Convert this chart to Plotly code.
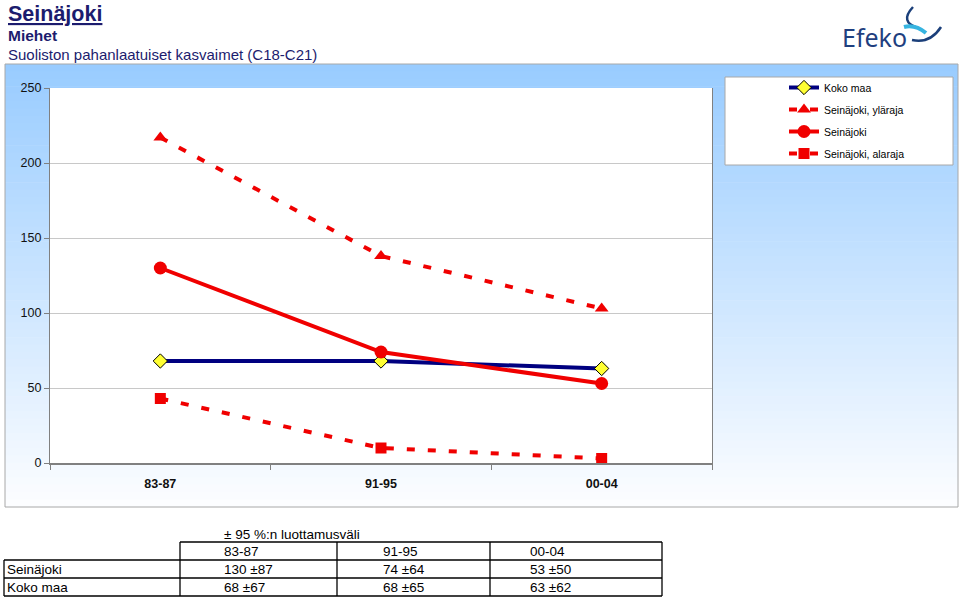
import plotly.graph_objects as go

# ---------------- data ----------------
categories = ["83-87", "91-95", "00-04"]
koko_maa = [68, 68, 63]
koko_maa_ci = [67, 65, 62]
seinajoki = [130, 74, 53]
seinajoki_ci = [87, 64, 50]
seinajoki_upper = [217, 138, 103]
seinajoki_lower = [43, 10, 3]
y_ticks = [0, 50, 100, 150, 200, 250]

W, H = 960, 599
PL, PR, PT, PB = 50, 712, 88, 463  # plot area in pixels

def px(x):
    return (x - PL) / (PR - PL)

def py(y):
    return (PB - y) / (PB - PT)

FONT = "Liberation Sans, Arial, sans-serif"
RED = "#F00000"
NAVY = "#000080"
TITLE_COL = "#1C1C6E"

fig = go.Figure()

fig.add_trace(go.Scatter(
    x=categories, y=koko_maa, name="Koko maa", mode="lines+markers",
    line=dict(color=NAVY, width=4),
    marker=dict(symbol="diamond", size=11, color="#FFFF33", line=dict(color="black", width=1)),
    legendgroup="a"))
fig.add_trace(go.Scatter(
    x=categories, y=seinajoki_upper, name="Seinäjoki, yläraja", mode="lines+markers",
    line=dict(color=RED, width=4, dash="8px,13px"),
    marker=dict(symbol="triangle-up", size=12, color=RED),
    legendgroup="b"))
fig.add_trace(go.Scatter(
    x=categories, y=seinajoki, name="Seinäjoki", mode="lines+markers",
    line=dict(color=RED, width=4),
    marker=dict(symbol="circle", size=13, color=RED),
    legendgroup="c"))
fig.add_trace(go.Scatter(
    x=categories, y=seinajoki_lower, name="Seinäjoki, alaraja", mode="lines+markers",
    line=dict(color=RED, width=4, dash="8px,13px"),
    marker=dict(symbol="square", size=11, color=RED),
    legendgroup="d"))

shapes = []
# gradient panel background
x0p, x1p, y0p, y1p = 5, 958, 64, 507
top = (153, 204, 255)
bot = (252, 253, 255)
n = 60
for i in range(n):
    t = i / (n - 1)
    c = tuple(round(top[k] + (bot[k] - top[k]) * t) for k in range(3))
    ya = y0p + (y1p - y0p) * i / n
    yb = y0p + (y1p - y0p) * (i + 1) / n + 0.6
    shapes.append(dict(type="rect", xref="paper", yref="paper", layer="below",
                       x0=px(x0p), x1=px(x1p), y0=py(ya), y1=py(min(yb, y1p)),
                       fillcolor="rgb(%d,%d,%d)" % c, line=dict(width=0)))
# panel border
shapes.append(dict(type="rect", xref="paper", yref="paper", layer="below",
                   x0=px(x0p), x1=px(x1p), y0=py(y0p), y1=py(y1p),
                   line=dict(color="#A8A8A8", width=1)))
# plot area white
shapes.append(dict(type="rect", xref="paper", yref="paper", layer="below",
                   x0=0, x1=1, y0=0, y1=1, fillcolor="white", line=dict(width=0)))
# legend box
shapes.append(dict(type="rect", xref="paper", yref="paper", layer="below",
                   x0=px(725), x1=px(953), y0=py(77), y1=py(165),
                   fillcolor="white", line=dict(color="#A8A8A8", width=1)))

# table lines
tbl_x = [180, 337, 490, 662]
LC = "black"
def hline(x0, x1, y):
    shapes.append(dict(type="line", xref="paper", yref="paper", x0=px(x0), x1=px(x1),
                       y0=py(y), y1=py(y), line=dict(color=LC, width=1.3)))
def vline(x, y0, y1):
    shapes.append(dict(type="line", xref="paper", yref="paper", x0=px(x), x1=px(x),
                       y0=py(y0), y1=py(y1), line=dict(color=LC, width=1.3)))
hline(180, 662, 542)
hline(4, 662, 560)
hline(4, 662, 578)
hline(4, 662, 596)
vline(4, 560, 596)
for xx in tbl_x:
    vline(xx, 542, 596)

# logo swoosh
shapes.append(dict(type="path", xref="paper", yref="paper",
                   path="M %f,%f Q %f,%f %f,%f" % (px(913), py(7), px(899), py(22), px(918), py(28)),
                   line=dict(color="#1B3F7A", width=2.5)))
shapes.append(dict(type="path", xref="paper", yref="paper",
                   path="M %f,%f Q %f,%f %f,%f" % (px(904), py(27), px(915), py(24), px(926), py(33)),
                   line=dict(color="#36B4E0", width=4)))
shapes.append(dict(type="path", xref="paper", yref="paper",
                   path="M %f,%f Q %f,%f %f,%f" % (px(912), py(40), px(930), py(44), px(941), py(27)),
                   line=dict(color="#1B3F7A", width=2.5)))

annotations = []
def txt(x, y, s, size, color="black", bold=False, anchor="left", family=FONT):
    annotations.append(dict(xref="paper", yref="paper", x=px(x), y=py(y), text=s,
                            showarrow=False, xanchor=anchor, yanchor="middle",
                            font=dict(family=family, size=size, color=color,
                                      weight="bold" if bold else "normal")))

txt(6, 14, "<u>Seinäjoki</u>", 21.5, TITLE_COL, bold=True)
txt(6, 35, "Miehet", 15.5, TITLE_COL, bold=True)
txt(6, 54, "Suoliston pahanlaatuiset kasvaimet (C18-C21)", 15, TITLE_COL)
txt(840, 37, "Efeko", 25, "#1F3F7F", family="Noto Sans, sans-serif")

# table text
col_text_x = [222, 381, 528]
txt(222, 534, "± 95 %:n luottamusväli", 13.5)
for i, c in enumerate(categories):
    txt(col_text_x[i], 551, c, 13.5)
txt(5, 569, "Seinäjoki", 13.5)
txt(5, 587, "Koko maa", 13.5)
for i in range(len(categories)):
    txt(col_text_x[i], 569, "%d ±%d" % (seinajoki[i], seinajoki_ci[i]), 13.5)
    txt(col_text_x[i], 587, "%d ±%d" % (koko_maa[i], koko_maa_ci[i]), 13.5)

fig.update_layout(
    width=W, height=H, autosize=False,
    margin=dict(l=PL, r=W - PR, t=PT, b=H - PB, pad=0),
    paper_bgcolor="white", plot_bgcolor="white",
    font=dict(family=FONT, color="#111111"),
    showlegend=True,
    legend=dict(x=px(784), y=py(73), xanchor="left", yanchor="top",
                bgcolor="rgba(0,0,0,0)", borderwidth=0,
                font=dict(family=FONT, size=10.5, color="black"),
                tracegroupgap=3, traceorder="grouped", itemwidth=30),
    xaxis=dict(type="category", range=[-0.5, 2.5], showgrid=False, showline=True,
               linecolor="#808080", linewidth=1.5, ticks="outside", ticklen=5,
               tickcolor="#808080", tickson="boundaries", ticklabelstandoff=8,
               tickfont=dict(size=12.5, family=FONT, weight="bold", color="#111111"),
               zeroline=False, fixedrange=True),
    yaxis=dict(range=[0, 250], tickvals=y_ticks, showgrid=True, gridcolor="#C8C8C8",
               gridwidth=1, showline=True, linecolor="#808080", linewidth=1.2, mirror=True,
               ticks="outside", ticklen=5, tickcolor="#808080",
               tickfont=dict(size=12.5, family=FONT, color="#111111"),
               zeroline=False, fixedrange=True),
    shapes=shapes, annotations=annotations,
)

fig.write_html("out.html")
